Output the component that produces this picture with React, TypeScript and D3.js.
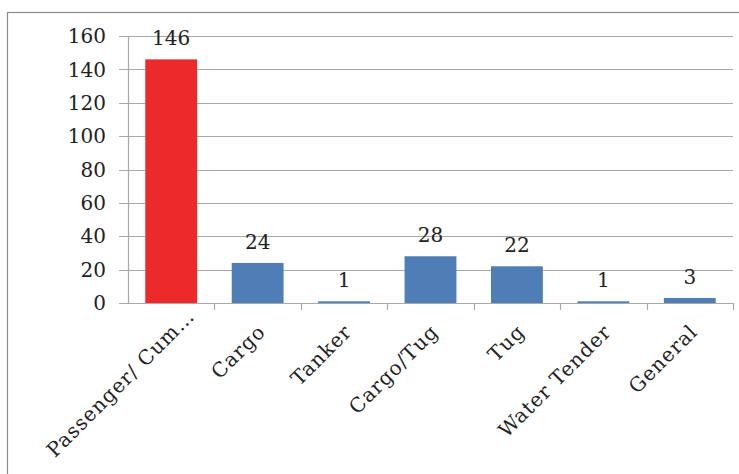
import React from "react";
import * as d3 from "d3";

const categories = ["Passenger/ Cum…", "Cargo", "Tanker", "Cargo/Tug", "Tug", "Water Tender", "General"];
const counts = [146, 24, 1, 28, 22, 1, 3];
const yTicks = [0, 20, 40, 60, 80, 100, 120, 140, 160];
const highlightIndex = 0;

const W = 739;
const H = 474;
const left = 128;
const right = 733;
const top = 36;
const bottom = 303;
const FONT = "'DejaVu Serif', serif";

export default function App() {
  const x = d3.scaleBand<string>().domain(categories).range([left, right]).paddingInner(0.4).paddingOuter(0.2);
  const xStep = d3.scaleBand<string>().domain(categories).range([left, right]);
  const y = d3.scaleLinear().domain([0, 160]).range([bottom, top]);
  const grid = "#a9a9a9";

  return (
    <svg width={W} height={H} style={{ position: "absolute", left: 0, top: 0, background: "#fff" }}>
      <rect x={7.5} y={12.5} width={760} height={480} fill="none" stroke="#8a8a8a" strokeWidth={1.2} />
      {yTicks.map((t) => (
        <g key={t}>
          <line x1={left - 9} x2={right} y1={Math.round(y(t)) + 0.5} y2={Math.round(y(t)) + 0.5} stroke={grid} strokeWidth={1.2} />
          <text x={106} y={y(t)} dy="0.36em" textAnchor="end" fontFamily={FONT} fontSize={20} fill="#222">
            {t}
          </text>
        </g>
      ))}
      <line x1={left + 0.5} x2={left + 0.5} y1={top} y2={bottom} stroke={grid} strokeWidth={1.2} />
      {categories.map((c) => (
        <line key={"tk" + c} x1={Math.round(xStep(c)! + xStep.bandwidth()) + 0.5} x2={Math.round(xStep(c)! + xStep.bandwidth()) + 0.5} y1={bottom} y2={bottom + 7} stroke={grid} strokeWidth={1.2} />
      ))}
      {categories.map((c, i) => (
        <g key={c}>
          <rect x={x(c)} y={y(counts[i])} width={x.bandwidth()} height={y(0) - y(counts[i])} fill={i === highlightIndex ? "#ec2a29" : "#4f7db6"} />
          <text x={x(c)! + x.bandwidth() / 2} y={y(counts[i]) - 14} textAnchor="middle" fontFamily={FONT} fontSize={20} fill="#222">
            {counts[i]}
          </text>
        </g>
      ))}
      {categories.map((c, i) => {
        const cx = xStep(c)! + xStep.bandwidth() / 2 + 9;
        const shift = i === highlightIndex ? 22 : 0;
        return (
          <text key={"lb" + c} transform={`translate(${cx},${333}) rotate(-45)`} x={shift} textAnchor="end" fontFamily={FONT} fontSize={20} letterSpacing={1} fill="#222">
            {c}
          </text>
        );
      })}
    </svg>
  );
}
